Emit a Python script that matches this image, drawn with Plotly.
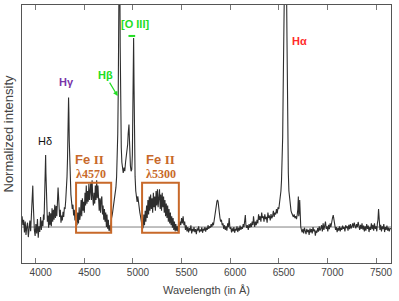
import plotly.graph_objects as go

# Wavelength (Angstrom) and normalized intensity (rows aligned)
wavelength = [
    3860, 3868, 3876, 3884, 3892, 3900, 3908, 3916, 3924, 3932,
    3940, 3948, 3955, 3961, 3966, 3970, 3974, 3979, 3986, 3994,
    4002, 4010, 4018, 4026, 4034, 4042, 4050, 4058, 4066, 4074,
    4080, 4086, 4091, 4095, 4099, 4102, 4105, 4109, 4114, 4120,
    4126, 4133, 4140, 4147, 4154, 4161, 4168, 4175, 4182, 4189,
    4196, 4203, 4210, 4217, 4224, 4230, 4235, 4240, 4246, 4253,
    4260, 4267, 4274, 4281, 4288, 4295, 4302, 4309, 4316, 4322,
    4327, 4331, 4335, 4338, 4341, 4345, 4350, 4356, 4362, 4369,
    4376, 4383, 4390, 4397, 4404, 4411, 4418,
    4425, 4432, 4440, 4447, 4453, 4460, 4467, 4473, 4480, 4487,
    4494, 4500, 4507, 4513, 4520, 4527, 4533, 4540, 4547, 4553,
    4560, 4567, 4573, 4580, 4587, 4593, 4600, 4607, 4613, 4620,
    4627, 4633, 4640, 4647, 4653, 4660, 4667, 4673, 4680, 4687,
    4693, 4700, 4707, 4713, 4720, 4727, 4733, 4740, 4747, 4753,
    4760, 4767, 4773,
    4780, 4788, 4796, 4804, 4811, 4818, 4825, 4832, 4838, 4844,
    4849, 4853, 4857, 4861, 4865, 4869, 4874, 4880, 4886, 4893,
    4900, 4908, 4916, 4924, 4932, 4940, 4946, 4951, 4955, 4959,
    4963, 4968, 4974, 4981, 4988, 4994, 4999, 5003, 5007, 5011,
    5016, 5022, 5029, 5036, 5043, 5050, 5057, 5064, 5071, 5078,
    5085, 5092, 5098,
    5105, 5112, 5119, 5126, 5133, 5140, 5147, 5154, 5161, 5168,
    5175, 5182, 5189, 5196, 5203, 5210, 5217, 5224, 5231, 5238,
    5245, 5252, 5259, 5266, 5273, 5280, 5287, 5294, 5301, 5308,
    5315, 5322, 5329, 5336, 5343, 5350, 5357, 5364, 5371, 5378,
    5385, 5392, 5399, 5406, 5413, 5420, 5427, 5434, 5441, 5448,
    5455, 5462, 5469,
    5476, 5484, 5492, 5500, 5508, 5516, 5524, 5532, 5540, 5548,
    5556, 5564, 5572, 5580, 5588, 5596, 5604, 5612, 5620, 5628,
    5636, 5644, 5652, 5660, 5668, 5676, 5684, 5692, 5700, 5708,
    5716, 5724, 5732, 5740, 5748, 5756, 5764, 5772, 5780, 5788,
    5796, 5804, 5812, 5820, 5828, 5836, 5844, 5852, 5858, 5864,
    5870, 5876, 5882, 5888, 5895, 5902, 5910, 5918, 5926, 5934,
    5942, 5950, 5958, 5966, 5974, 5982, 5990, 5998, 6006, 6014,
    6022, 6030, 6038, 6046, 6054, 6062, 6070, 6078, 6086, 6094,
    6102, 6110, 6118, 6126, 6134, 6142, 6150, 6156, 6162, 6170,
    6178, 6186, 6194, 6202, 6210, 6218, 6226, 6234, 6240, 6246,
    6252, 6260, 6268, 6276, 6284, 6292, 6300, 6308, 6316, 6324,
    6332, 6340, 6348, 6356, 6364, 6372, 6380, 6388, 6396, 6404,
    6412, 6420, 6428, 6436, 6444, 6452, 6460, 6468, 6476, 6484,
    6492, 6500, 6508, 6515, 6522, 6528, 6534, 6540, 6545, 6550,
    6556, 6562, 6570, 6577, 6584, 6589, 6593, 6598, 6604, 6611,
    6618, 6626, 6634, 6642, 6650, 6658, 6666, 6674, 6682, 6690,
    6696, 6701, 6705, 6710, 6715, 6720, 6726, 6733, 6740,
    6748, 6756, 6764, 6772, 6780, 6788, 6796, 6804, 6812, 6820,
    6828, 6836, 6844, 6852, 6860, 6868, 6876, 6884, 6892, 6900,
    6908, 6916, 6924, 6932, 6940, 6948, 6956, 6964, 6972, 6980,
    6988, 6996, 7004, 7012, 7020, 7028, 7036, 7044, 7052, 7060,
    7068, 7076, 7084, 7092, 7100, 7108, 7116, 7124, 7132, 7140,
    7148, 7156, 7164, 7172, 7180, 7188, 7196, 7204, 7212, 7220,
    7228, 7236, 7244, 7252, 7260, 7268, 7276, 7284, 7292, 7300,
    7308, 7316, 7324, 7332, 7340, 7348, 7356, 7364, 7372, 7380,
    7388, 7396, 7404, 7412, 7420, 7428, 7436, 7444, 7452, 7460,
    7468, 7476, 7484, 7492, 7500, 7508, 7514, 7520, 7526, 7532,
    7540, 7548, 7556, 7564, 7572, 7580, 7588, 7596, 7604, 7612,
    7620, 7628, 7636, 7644, 7654,
]
intensity = [
    1.30, 1.05, 1.20, 0.85, 1.15, 0.78, 1.00, 1.12, 0.72, 0.95,
    1.18, 0.88, 1.25, 1.60, 2.00, 2.15, 1.70, 1.20, 0.92, 0.75,
    1.08, 0.82, 1.22, 0.70, 1.02, 0.86, 1.28, 0.92, 1.18, 1.02,
    1.35, 1.20, 1.70, 2.30, 2.80, 3.00, 2.50, 1.80, 1.40, 1.15,
    1.32, 0.98, 1.42, 1.05, 1.38, 1.02, 1.52, 1.15, 1.48, 1.20,
    1.62, 1.25, 1.58, 1.30, 1.72, 2.10, 1.85, 1.55, 1.28, 1.48,
    1.12, 1.32, 1.18, 1.42, 1.28, 1.55, 1.50, 1.75, 2.00, 2.40,
    2.90, 3.60, 4.30, 4.60, 4.20, 3.40, 2.60, 2.15, 1.90, 1.70,
    1.50, 1.62, 1.32, 1.48, 1.18, 1.32, 1.08,
    1.05, 1.40, 1.10, 1.55, 1.20, 1.35, 1.75, 1.30, 1.80, 1.45,
    1.70, 1.40, 1.95, 1.60, 2.15, 1.65, 2.00, 1.70, 2.20, 1.75,
    1.95, 2.25, 1.75, 2.30, 1.80, 1.60, 1.95, 1.65, 2.15, 1.75,
    2.30, 1.80, 2.15, 1.65, 1.45, 1.80, 1.40, 1.75, 1.85, 1.35,
    1.60, 1.20, 1.50, 1.15, 1.40, 1.00, 1.35, 0.95, 1.20, 0.90,
    1.05, 0.88, 1.10,
    1.25, 1.35, 1.50, 1.60, 1.75, 1.90, 2.10, 2.40, 2.90, 3.60,
    4.80, 6.20, 8.00, 9.50, 8.00, 6.00, 4.20, 3.20, 2.80, 2.60,
    2.50, 2.65, 2.55, 2.80, 2.95, 3.10, 3.30, 3.60, 3.80, 3.85,
    3.50, 3.00, 2.70, 2.55, 2.60, 3.00, 3.90, 5.20, 6.25, 5.00,
    3.20, 2.40, 2.00, 1.80, 1.70, 1.85, 1.65, 1.50, 1.40, 1.30,
    1.20, 1.05, 0.95,
    1.00, 1.35, 1.05, 1.45, 1.15, 1.60, 1.25, 1.75, 1.35, 1.85,
    1.45, 1.90, 1.50, 1.80, 1.40, 1.95, 1.55, 1.85, 1.45, 2.00,
    1.60, 2.05, 1.55, 1.95, 2.05, 1.50, 1.90, 1.45, 1.95, 1.55,
    1.85, 1.40, 1.75, 1.30, 1.65, 1.25, 1.60, 1.15, 1.50, 1.10,
    1.40, 1.05, 1.30, 0.98, 1.25, 0.92, 1.15, 0.88, 1.08, 0.90,
    1.02, 0.88, 1.10,
    1.00, 1.15, 1.05, 1.25, 1.10, 1.30, 1.05, 1.15, 0.92, 1.05,
    0.88, 1.00, 0.85, 0.97, 0.90, 1.05, 0.82, 0.95, 0.88, 1.00,
    0.86, 0.94, 0.80, 0.96, 0.90, 1.02, 0.85, 0.93, 0.88, 0.99,
    0.84, 0.95, 0.90, 1.00, 0.87, 0.98, 0.92, 1.05, 0.95, 1.02,
    0.98, 1.08, 1.00, 1.12, 1.05, 1.18, 1.25, 1.40, 1.60, 1.72,
    1.75, 1.70, 1.50, 1.35, 1.25, 1.15, 1.20, 1.05, 1.10, 0.95,
    1.05, 0.92, 1.02, 0.90, 1.10, 1.00, 1.25, 0.95, 1.00, 0.85,
    0.96, 0.88, 1.00, 0.84, 0.95, 0.90, 1.02, 0.86, 0.98, 0.90,
    1.04, 0.92, 1.00, 0.95, 1.08, 1.00, 1.20, 1.33, 1.05, 0.98,
    1.05, 0.92, 1.08, 0.98, 1.10, 1.00, 1.15, 1.05, 1.30, 1.10,
    1.00, 1.15, 1.05, 1.20, 1.10, 1.35, 1.20, 1.30, 1.15, 1.40,
    1.25, 1.30, 1.15, 1.35, 1.22, 1.28, 1.12, 1.40, 1.25, 1.32,
    1.18, 1.36, 1.24, 1.30, 1.45, 1.28, 1.40, 1.35, 1.50, 1.38,
    1.55, 1.50, 1.65, 1.80, 2.00, 2.30, 2.80, 3.50, 4.80, 6.30,
    8.50, 10.5, 10.5, 8.50, 6.30, 4.50, 3.30, 2.50, 2.00, 1.75,
    1.55, 1.45, 1.38, 1.32, 1.28, 1.35, 1.25, 1.30, 1.22, 1.35,
    1.50, 1.85, 1.30, 1.40, 1.75, 1.20, 1.00, 0.92, 0.85,
    0.95, 0.82, 0.98, 0.88, 0.80, 0.95, 0.86, 0.92, 0.78, 0.96,
    0.85, 0.94, 0.82, 1.00, 0.88, 0.93, 0.76, 0.90, 0.84, 0.97,
    0.87, 1.02, 0.90, 0.96, 1.05, 0.88, 1.10, 0.92, 1.00, 1.15,
    0.95, 1.02, 0.88, 1.06, 0.94, 1.10, 1.00, 1.18, 1.25, 1.33,
    1.20, 1.05, 0.92, 1.00, 0.86, 0.97, 0.90, 1.02, 0.88, 0.98,
    0.92, 1.04, 0.95, 1.00, 0.88, 1.05, 0.97, 1.02, 0.90, 1.06,
    0.94, 1.08, 0.96, 1.02, 1.10, 0.98, 1.12, 1.04, 0.96, 1.08,
    1.00, 1.14, 1.05, 0.92, 1.06, 0.95, 1.10, 0.93, 1.04, 0.88,
    1.02, 0.90, 1.08, 0.95, 1.04, 0.86, 1.00, 0.92, 1.10, 0.94,
    1.06, 0.90, 1.10, 0.95, 1.02, 0.88, 1.10, 1.20, 1.50, 1.00,
    0.92, 1.06, 0.88, 1.02, 0.94, 1.08, 0.86, 1.00, 0.92, 1.04,
    0.90, 0.98, 0.88, 0.96, 0.95,
]

x_range = [3859, 7654]
y_range = [0, 7.17]
x_ticks = [4000, 4500, 5000, 5500, 6000, 6500, 7000, 7500]
continuum_level = 1.0

# Fe II boxes: (x0, x1, y0, y1) in data units
fe_boxes = [(4415, 4776, 0.84, 2.23), (5094, 5472, 0.84, 2.23)]
fe_labels = [("4570", 4549, 4570), ("5300", 5281, 5291)]

ORANGE = "#C8692A"
GREEN = "#22DD22"
RED = "#FF2A2A"
PURPLE = "#7A35A8"
SANS = "Liberation Sans, Arial, sans-serif"
SERIF = "Liberation Serif, Times New Roman, serif"

fig = go.Figure()
fig.add_trace(go.Scatter(
    x=x_range, y=[continuum_level, continuum_level], mode="lines",
    line=dict(color="#808080", width=1), hoverinfo="skip", showlegend=False))
fig.add_trace(go.Scatter(
    x=wavelength, y=intensity, mode="lines",
    line=dict(color="#2e2e2e", width=1.1), showlegend=False))

for (x0, x1, y0, y1) in fe_boxes:
    fig.add_shape(type="rect", xref="x", yref="y", x0=x0, x1=x1, y0=y0, y1=y1,
                  line=dict(color=ORANGE, width=2), fillcolor="rgba(0,0,0,0)")

for (lam, xfe, xlam) in fe_labels:
    fig.add_annotation(x=xfe, y=2.89, xref="x", yref="y", showarrow=False,
                       text="<b>Fe <span style='font-family:Liberation Serif'>II</span></b>",
                       font=dict(family=SANS, size=13, color=ORANGE))
    fig.add_annotation(x=xlam, y=2.47, xref="x", yref="y", showarrow=False,
                       text="<b>λ" + lam + "</b>",
                       font=dict(family=SERIF, size=12, color=ORANGE))

fig.add_annotation(x=4096, y=3.39, text="Hδ", showarrow=False,
                   font=dict(family=SANS, size=11, color="#111111"))
fig.add_annotation(x=4312, y=5.03, text="<b>Hγ</b>", showarrow=False,
                   font=dict(family=SANS, size=11, color=PURPLE))
fig.add_annotation(x=4843, y=4.64, ax=4714, ay=5.22, axref="x", ayref="y",
                   text="<b>Hβ</b>", showarrow=True, arrowhead=2, arrowsize=0.8,
                   arrowwidth=1.2, arrowcolor=GREEN, standoff=0, startstandoff=0,
                   font=dict(family=SANS, size=11, color=GREEN))
fig.add_annotation(x=5023, y=6.64, text="<b>[O III]</b>", showarrow=False,
                   font=dict(family=SANS, size=11, color=GREEN))
fig.add_shape(type="line", xref="x", yref="y", x0=4954, x1=5023, y0=6.31, y1=6.31,
              line=dict(color=GREEN, width=2))
fig.add_annotation(x=6712, y=6.18, text="<b>Hα</b>", showarrow=False,
                   font=dict(family=SANS, size=11, color=RED))

fig.update_xaxes(
    range=x_range, tickvals=x_ticks, ticks="inside", ticklen=5, tickcolor="#777777",
    showline=True, linecolor="#555555", linewidth=1, mirror="ticks",
    showgrid=False, zeroline=False, ticklabelshift=5, automargin=False,
    tickfont=dict(family=SANS, size=10, color="#444444"),
    title=dict(text="Wavelength (in Å)", font=dict(family=SANS, size=11, color="#444444"), standoff=9),
)
fig.update_yaxes(
    range=y_range, showticklabels=False, ticks="", showline=True, linecolor="#555555",
    linewidth=1, mirror=True, showgrid=False, zeroline=False, automargin=False,
    title=dict(text="Normalized intensity", font=dict(family=SANS, size=13, color="#444444"), standoff=4),
)
fig.update_layout(
    width=399, height=301, margin=dict(l=22, r=8, t=5, b=38),
    paper_bgcolor="white", plot_bgcolor="white",
)
fig.write_html("out.html", config={"displayModeBar": False},
               post_script="document.body.style.margin='0';")
